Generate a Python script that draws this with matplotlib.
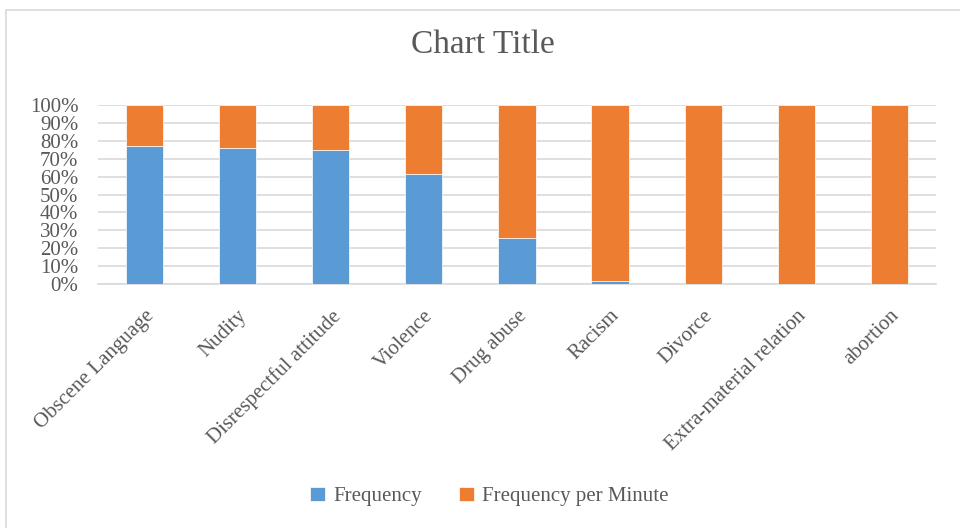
import matplotlib.pyplot as plt
import numpy as np
from matplotlib.patches import Rectangle

# Дані
categories = ['Obscene Language', 'Nudity', 'Disrespectful attitude', 'Violence',
              'Drug abuse', 'Racism', 'Divorce', 'Extra-material relation', 'abortion']
frequency = [77.1, 76.0, 74.9, 61.5, 25.8, 1.5, 0.3, 0.3, 0.3]
per_minute = [100 - v for v in frequency]
y_ticks = [0, 10, 20, 30, 40, 50, 60, 70, 80, 90, 100]

plt.rcParams['font.family'] = ['Liberation Serif', 'DejaVu Serif']
grey = '#595959'
blue = '#5b9bd5'
orange = '#ed7d31'

fig = plt.figure(figsize=(9.6, 5.28), dpi=100)
ax = fig.add_axes([0.102, 0.462, 0.873, 0.339])

# Рамка діаграми
fig.patches.append(Rectangle((5.5 / 960, -0.1), 1.2, 1 - 9.5 / 528 + 0.1,
                             transform=fig.transFigure, fill=False,
                             edgecolor='#d9d9d9', linewidth=1.2))

x = np.arange(len(categories))
ax.bar(x, frequency, width=0.4, color=blue, label='Frequency', zorder=3,
       edgecolor='white', linewidth=0.5)
ax.bar(x, per_minute, width=0.4, bottom=frequency, color=orange,
       label='Frequency per Minute', zorder=3, edgecolor='white', linewidth=0.5)

ax.set_xlim(-0.5, len(categories) - 0.5)
ax.set_ylim(0, 100)
ax.set_yticks(y_ticks)
ax.set_yticklabels([f'{t}%' for t in y_ticks])
ax.grid(axis='y', color='#d9d9d9', linewidth=1.2, zorder=0)
for s in ['top', 'right', 'left']:
    ax.spines[s].set_visible(False)
ax.spines['bottom'].set_color('#d9d9d9')
ax.spines['bottom'].set_linewidth(1.2)
ax.tick_params(length=0, labelsize=15, labelcolor=grey)
ax.tick_params(axis='y', pad=14)

ax.set_xticks(x)
ax.set_xticklabels(categories, rotation=45, ha='right', va='top',
                   rotation_mode='anchor')
ax.tick_params(axis='x', pad=16)

fig.text(0.503, 0.915, 'Chart Title', ha='center', va='center',
         fontsize=24, color=grey)

fig.legend(loc='center', bbox_to_anchor=(0.51, 0.06), ncol=2, frameon=False,
           fontsize=15, labelcolor=grey, handlelength=0.7, handleheight=0.7,
           handletextpad=0.4, columnspacing=1.8)

fig.savefig('out.png', dpi=100)
